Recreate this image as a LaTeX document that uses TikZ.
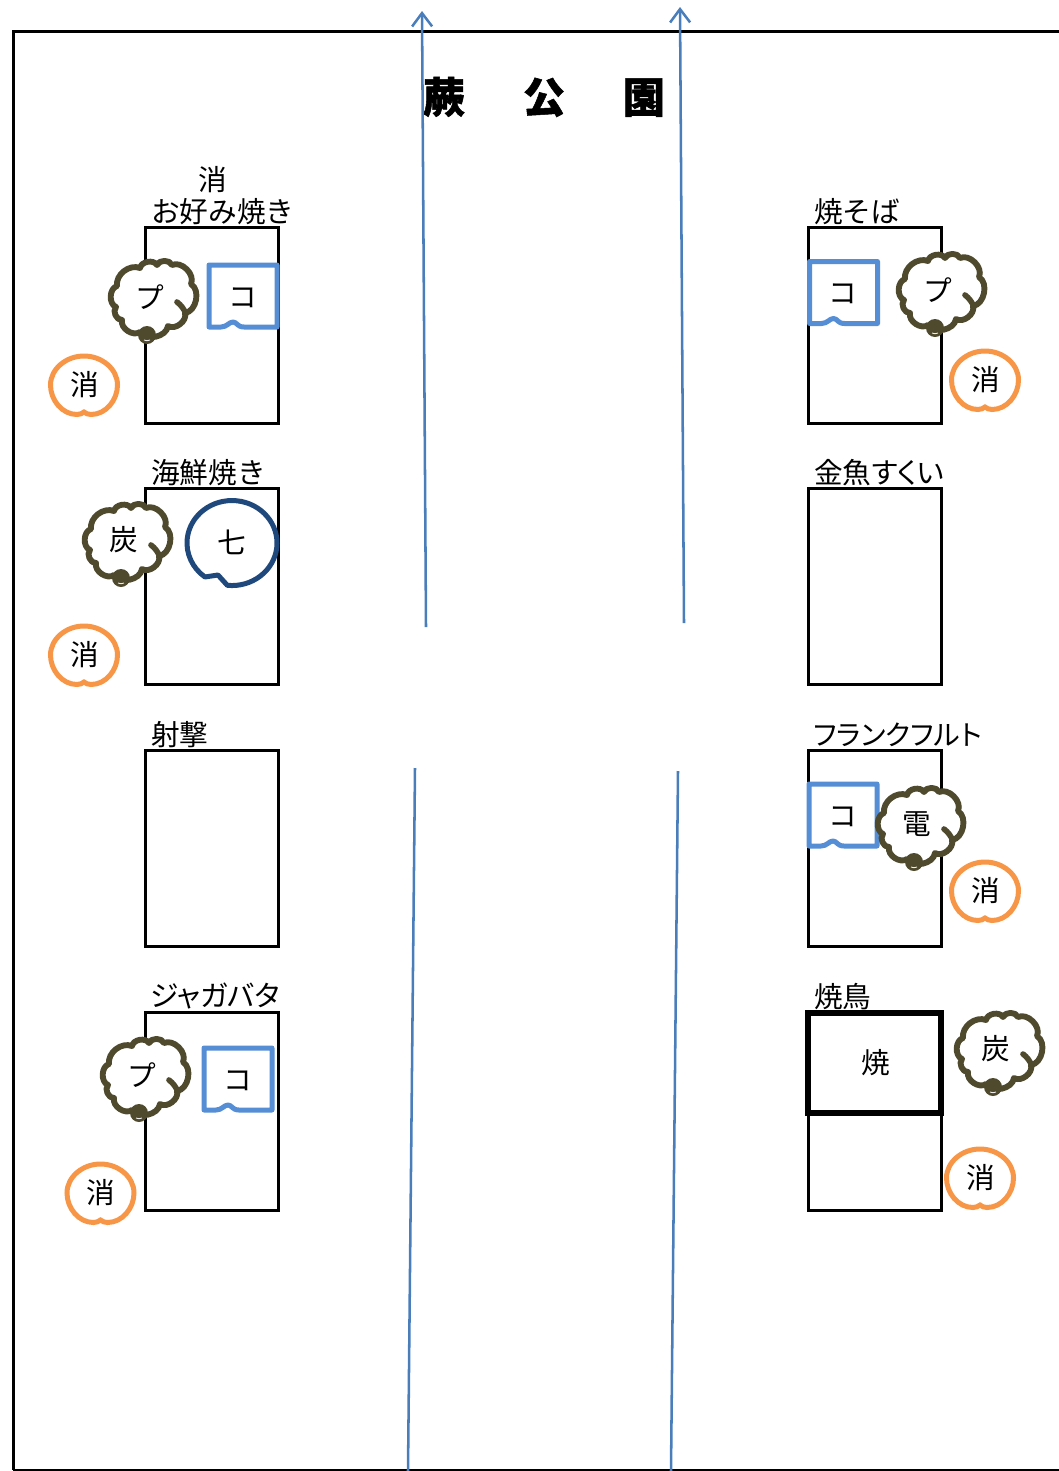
\documentclass[tikz,border=0pt]{standalone}
\usepackage{fontspec}
\setmainfont{Noto Sans CJK JP}
\newfontfamily\palttext[RawFeature=+palt]{Noto Sans CJK JP}
\newfontfamily\titlefont[BoldFeatures={FakeBold=1.2}]{Noto Sans CJK JP}
\usetikzlibrary{arrows.meta}
\definecolor{roadblue}{HTML}{4A7EBB}
\definecolor{tagblue}{HTML}{558ED5}
\definecolor{navyring}{HTML}{1F497D}
\definecolor{cloudbrown}{HTML}{4F4A2D}
\definecolor{ringorange}{HTML}{F79646}
\tikzset{
	frameline/.style={line width=2.25pt,black},
	stall/.style={draw,line width=2.25pt,fill=white},
	road/.style={line width=1.9pt,roadblue,>={Straight Barb[length=10pt,width=15pt]}},
	stalltext/.style={font=\fontsize{21.5}{24}\selectfont,inner sep=0pt},
	tagline/.style={line width=3.75pt,tagblue,fill=white,line join=round},
	ringline/.style={line width=3.75pt,ringorange,fill=white},
	smoke/.style={draw=cloudbrown,fill=white,line width=4.4pt,line join=round},
}
\newcommand{\hosetag}[3]{
	\begin{scope}[shift={(#2,#3)}]
		\draw[tagline] (0,62) -- (12,62) .. controls (18,62) and (20,57) .. (24,57) .. controls (28,57) and (28,62) .. (35,62) -- (68,62) -- (68,0) -- (0,0) -- cycle;
		\node[stalltext] (#1) at (33.5,32.5) {コ};
	\end{scope}
}
\newcommand{\firering}[3]{
	\begin{scope}[shift={(#2,#3)}]
		\draw[ringline] (0,27) .. controls (-2,28.5) and (-4,29.5) .. (-7,29.5) .. controls (-22,29.5) and (-33.5,15) .. (-33.5,0) .. controls (-33.5,-16) and (-18,-29) .. (0,-29) .. controls (18,-29) and (33.5,-16) .. (33.5,0) .. controls (33.5,15) and (22,29.5) .. (7,29.5) .. controls (4,29.5) and (2,28.5) .. (0,27) -- cycle;
		\node[stalltext] (#1) at (0.5,0) {消};
	\end{scope}
}
\newcommand{\smokecloud}[4]{
	\begin{scope}[shift={(#2,#3)}]
		\draw[smoke] (-36,-12) to[bend left=60] (-13,-30) to[bend left=70] (4,-33) to[bend left=70] (19,-33) to[bend left=70] (38,-14) to[bend left=70] (32,15) to[bend left=70] (15,28) to[bend left=70] (-13,34) to[bend left=70] (-31,22) to[bend left=70] (-37,9) to[bend left=70] (-36,-12) -- cycle;
		\draw[cloudbrown,line width=4.2pt,line cap=round] (24,4) .. controls (28,7) and (31,11) .. (33,16);
		\fill[cloudbrown] (-6,37) circle[radius=9];
		\draw[white,line width=0.6pt] (-9,42) .. controls (-7,43) and (-5,43) .. (-3,42);
		\node[stalltext] (#1) at (-3,-1) {#4};
	\end{scope}
}
\begin{document}
\begin{tikzpicture}[x=0.75pt,y=-0.75pt]
	\useasboundingbox (0,0) rectangle (1059,1471);
	\draw[frameline] (1059,31) -- (13,31) -- (13,1470);
	\draw[black,line width=1.5pt] (13,1470) -- (1059,1470);
	\node[font=\fontsize{31.5}{36}\titlefont\bfseries,inner sep=0pt] (title) at (544,97) {蕨\hspace{43.5pt}公\hspace{43.5pt}園};
	\draw[stall] (145.5,227.5) rectangle (278.5,423.5);
	\draw[stall] (145.5,488.5) rectangle (278.5,684.5);
	\draw[stall] (145.5,750) rectangle (278.5,946);
	\draw[stall] (145.5,1012.5) rectangle (278.5,1210);
	\draw[stall] (808,227.5) rectangle (941,423.5);
	\draw[stall] (808,488.5) rectangle (941,684.5);
	\draw[stall] (808,750) rectangle (941,946);
	\draw[stall] (808,1012.5) rectangle (941,1210);
	\draw[stall,line width=4.4pt] (808,1013) rectangle (941,1113);
	\node[stalltext] (yaki) at (875.5,1063) {焼};
	\node[stalltext] (okoshou) at (213,180) {消};
	\node[stalltext,anchor=west] (okonomi) at (151,212) {お好み焼き};
	\node[stalltext,anchor=west] (kaisen) at (151,473) {海鮮焼き};
	\node[stalltext,anchor=west] (shageki) at (151,735) {射撃};
	\node[stalltext,anchor=west] (jaga) at (150,996) {\palttext ジャガバタ};
	\node[stalltext,anchor=west] (yakisoba) at (814,212) {焼そば};
	\node[stalltext,anchor=west] (kingyo) at (814,473) {\palttext 金魚すくい};
	\node[stalltext,anchor=west,font=\fontsize{21}{24}\selectfont] (furank) at (813,735) {\palttext フランクフルト};
	\node[stalltext,anchor=west] (yakitori) at (814,997) {焼鳥};
	\hosetag{tagA}{209}{265}
	\hosetag{tagB}{809.5}{261.5}
	\hosetag{tagC}{809}{784}
	\hosetag{tagD}{204}{1048}
	\smokecloud{cloudA}{153}{298}{プ}
	\smokecloud{cloudB}{127}{541}{炭}
	\smokecloud{cloudC}{941}{291}{プ}
	\smokecloud{cloudD}{920}{825}{電}
	\smokecloud{cloudE}{145}{1076}{プ}
	\smokecloud{cloudF}{999}{1050}{炭}
	\firering{ringA}{84}{385}
	\firering{ringB}{84}{655}
	\firering{ringC}{985}{380}
	\firering{ringD}{985}{891}
	\firering{ringE}{100.5}{1193}
	\firering{ringF}{980}{1178}
	\draw[line width=3.75pt,navyring,fill=white,line join=round] (227.3,585.3) arc[start angle=96,end angle=-233,x radius=45,y radius=42.5] -- (218,575) -- cycle;
	\node[stalltext] (shichi) at (232,542) {七};
	\coordinate (roadAa) at (426,627);
	\coordinate (roadAb) at (422,11);
	\coordinate (roadBa) at (684,623);
	\coordinate (roadBb) at (680,7);
	\coordinate (roadCa) at (415,768);
	\coordinate (roadCb) at (408,1471);
	\coordinate (roadDa) at (678,771);
	\coordinate (roadDb) at (671,1471);
	\draw[road,->] (roadAa) -- (roadAb);
	\draw[road,->] (roadBa) -- (roadBb);
	\draw[road] (roadCa) -- (roadCb);
	\draw[road] (roadDa) -- (roadDb);
\end{tikzpicture}
\end{document}
